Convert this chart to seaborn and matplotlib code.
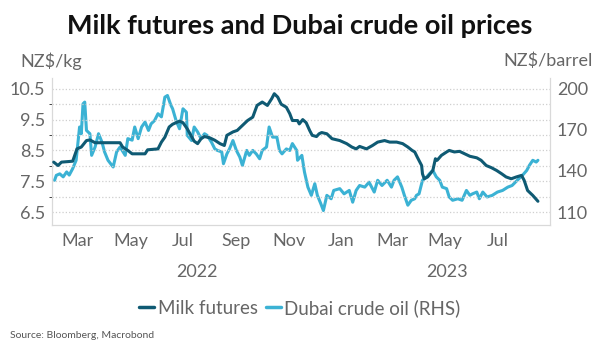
import pandas as pd
import numpy as np
import seaborn as sns
import matplotlib.pyplot as plt
import matplotlib.dates as mdates
from matplotlib.lines import Line2D

# Milk futures, NZ$/kg (left axis)
milk_dates = ["2022-02-01", "2022-02-06", "2022-02-10", "2022-02-23", "2022-02-28", "2022-03-05",
              "2022-03-11", "2022-03-15", "2022-03-21", "2022-04-19", "2022-04-22", "2022-04-28",
              "2022-05-03", "2022-05-18", "2022-05-21", "2022-06-02", "2022-06-06", "2022-06-10",
              "2022-06-15", "2022-06-19", "2022-06-27", "2022-07-01", "2022-07-06", "2022-07-11",
              "2022-07-14", "2022-07-18", "2022-07-22", "2022-07-26", "2022-08-01", "2022-08-07",
              "2022-08-13", "2022-08-18", "2022-08-21", "2022-08-28", "2022-09-02", "2022-09-08",
              "2022-09-14", "2022-09-20", "2022-09-25", "2022-10-01", "2022-10-07", "2022-10-12",
              "2022-10-15", "2022-10-19", "2022-10-23", "2022-10-29", "2022-11-02", "2022-11-05",
              "2022-11-11", "2022-11-13", "2022-11-17", "2022-11-21", "2022-11-25", "2022-11-28",
              "2022-12-03", "2022-12-06", "2022-12-09", "2022-12-15", "2022-12-21", "2022-12-30",
              "2023-01-07", "2023-01-13", "2023-01-18", "2023-01-22", "2023-01-30", "2023-02-06",
              "2023-02-12", "2023-02-20", "2023-02-26", "2023-03-06", "2023-03-13", "2023-03-19",
              "2023-03-24", "2023-03-27", "2023-03-30", "2023-04-04", "2023-04-05", "2023-04-07",
              "2023-04-11", "2023-04-17", "2023-04-20", "2023-04-22", "2023-04-27", "2023-05-03",
              "2023-05-06", "2023-05-12", "2023-05-18", "2023-05-24", "2023-05-30", "2023-06-07",
              "2023-06-12", "2023-06-18", "2023-06-24", "2023-06-30", "2023-07-06", "2023-07-11",
              "2023-07-17", "2023-07-23", "2023-07-29", "2023-08-01", "2023-08-05", "2023-08-11",
              "2023-08-17"]
milk_vals = [8.12, 8.01, 8.12, 8.15, 8.55, 8.61,
             8.82, 8.84, 8.75, 8.75, 8.61, 8.50,
             8.39, 8.39, 8.52, 8.55, 8.77, 8.93,
             9.26, 9.35, 9.45, 9.40, 9.20, 8.95,
             8.80, 8.72, 8.88, 8.95, 8.91, 8.83,
             8.72, 8.66, 8.99, 9.10, 9.15, 9.31,
             9.47, 9.58, 9.96, 10.07, 9.96, 10.18,
             10.34, 10.23, 10.00, 9.90, 9.69, 9.47,
             9.47, 9.36, 9.50, 9.40, 9.15, 8.99,
             8.95, 9.04, 9.08, 9.04, 8.88, 8.82,
             8.72, 8.61, 8.55, 8.63, 8.55, 8.66,
             8.77, 8.82, 8.77, 8.77, 8.72, 8.61,
             8.50, 8.45, 8.28, 8.01, 7.74, 7.58,
             7.64, 7.85, 8.23, 8.18, 8.34, 8.45,
             8.50, 8.45, 8.47, 8.39, 8.31, 8.26,
             8.18, 8.01, 7.94, 7.85, 7.74, 7.64,
             7.58, 7.64, 7.69, 7.53, 7.20, 7.04,
             6.85]

# Dubai crude oil, NZ$/barrel (right axis)
oil_dates = ["2022-02-02", "2022-02-04", "2022-02-08", "2022-02-12", "2022-02-16", "2022-02-19",
             "2022-02-23", "2022-02-27", "2022-03-03", "2022-03-05", "2022-03-07", "2022-03-09",
             "2022-03-11", "2022-03-15", "2022-03-17", "2022-03-21", "2022-03-25", "2022-03-29",
             "2022-04-01", "2022-04-05", "2022-04-11", "2022-04-15", "2022-04-19", "2022-04-25",
             "2022-04-28", "2022-05-03", "2022-05-06", "2022-05-10", "2022-05-14", "2022-05-18",
             "2022-05-22", "2022-05-25", "2022-05-29", "2022-06-02", "2022-06-06", "2022-06-10",
             "2022-06-13", "2022-06-17", "2022-06-19", "2022-06-23", "2022-06-27", "2022-07-01",
             "2022-07-05", "2022-07-06", "2022-07-11", "2022-07-14", "2022-07-18", "2022-07-22",
             "2022-07-26", "2022-07-29", "2022-08-03", "2022-08-07", "2022-08-10", "2022-08-15",
             "2022-08-17", "2022-08-21", "2022-08-24", "2022-08-28", "2022-09-01", "2022-09-05",
             "2022-09-08", "2022-09-13", "2022-09-16", "2022-09-20", "2022-09-24", "2022-09-28",
             "2022-10-01", "2022-10-06", "2022-10-09", "2022-10-13", "2022-10-18", "2022-10-21",
             "2022-10-24", "2022-10-29", "2022-11-02", "2022-11-05", "2022-11-10", "2022-11-11",
             "2022-11-16", "2022-11-19", "2022-11-23", "2022-11-27", "2022-12-01", "2022-12-04",
             "2022-12-08", "2022-12-11", "2022-12-15", "2022-12-20", "2022-12-23", "2022-12-30",
             "2023-01-04", "2023-01-10", "2023-01-14", "2023-01-18", "2023-01-22", "2023-01-28",
             "2023-02-02", "2023-02-08", "2023-02-12", "2023-02-17", "2023-02-23", "2023-02-28",
             "2023-03-03", "2023-03-07", "2023-03-12", "2023-03-15", "2023-03-19", "2023-03-23",
             "2023-03-27", "2023-03-29", "2023-04-01", "2023-04-05", "2023-04-10", "2023-04-13",
             "2023-04-17", "2023-04-21", "2023-04-25", "2023-04-28", "2023-05-03", "2023-05-06",
             "2023-05-10", "2023-05-16", "2023-05-21", "2023-05-26", "2023-05-30", "2023-06-02",
             "2023-06-07", "2023-06-10", "2023-06-14", "2023-06-19", "2023-06-25", "2023-07-01",
             "2023-07-07", "2023-07-13", "2023-07-18", "2023-07-24", "2023-07-30", "2023-08-04",
             "2023-08-07", "2023-08-11", "2023-08-15", "2023-08-17"]
oil_vals = [133.2, 136.8, 137.9, 135.7, 139.3, 137.0,
            141.7, 147.8, 172.1, 167.2, 189.0, 190.3,
            169.6, 167.2, 151.4, 157.5, 167.2, 161.1,
            153.9, 147.8, 142.9, 153.9, 157.5, 151.4,
            163.6, 162.5, 172.1, 163.6, 172.1, 175.7,
            169.6, 174.4, 176.8, 181.8, 179.5, 193.9,
            195.1, 188.0, 185.4, 176.8, 170.8, 185.4,
            182.9, 166.0, 162.2, 172.1, 168.5, 163.6,
            167.2, 166.0, 161.1, 156.1, 155.0, 153.9,
            145.3, 152.5, 156.1, 162.2, 155.0, 150.1,
            144.0, 155.0, 151.4, 155.0, 152.5, 148.9,
            155.0, 157.5, 172.1, 164.7, 164.7, 155.0,
            152.5, 156.1, 155.0, 160.0, 155.0, 147.8,
            151.4, 139.3, 128.2, 122.2, 130.7, 122.2,
            116.1, 111.1, 122.2, 119.7, 125.8, 127.1,
            123.3, 125.8, 117.2, 125.8, 129.4, 128.2,
            131.8, 124.6, 133.2, 129.4, 133.2, 128.2,
            133.2, 135.7, 128.2, 122.2, 115.0, 118.6,
            119.7, 122.2, 123.3, 133.2, 135.7, 137.9,
            140.4, 135.7, 133.2, 128.2, 127.1, 121.0,
            118.6, 119.7, 118.6, 125.8, 122.2, 123.3,
            124.6, 119.7, 124.6, 121.0, 122.2, 124.6,
            125.8, 128.2, 129.4, 133.2, 136.8, 140.4,
            144.0, 147.8, 146.5, 147.8]

month_ticks = ["2022-03-01", "2022-05-01", "2022-07-01", "2022-09-01", "2022-11-01",
               "2023-01-01", "2023-03-01", "2023-05-01", "2023-07-01"]
month_labels = ["Mar", "May", "Jul", "Sep", "Nov", "Jan", "Mar", "May", "Jul"]
years = ["2022", "2023"]
year_pos = ["2022-07-17", "2023-05-03"]

milk = pd.DataFrame({"date": pd.to_datetime(milk_dates), "value": milk_vals})
oil = pd.DataFrame({"date": pd.to_datetime(oil_dates), "value": oil_vals})

DARK = "#0f5a73"
LIGHT = "#3bb2d4"
GREY = "#666666"

sns.set_style("white")
plt.rcParams["font.family"] = ["Lato", "DejaVu Sans"]

fig = plt.figure(figsize=(6, 3.53), dpi=100)
ax = fig.add_axes([52 / 600, 1 - 225 / 353, 498 / 600, 147 / 353])
ax2 = ax.twinx()

sns.lineplot(data=milk, x="date", y="value", ax=ax, color=DARK, linewidth=2.2, zorder=3)
sns.lineplot(data=oil, x="date", y="value", ax=ax2, color=LIGHT, linewidth=2.2, zorder=2)
ax.set_zorder(ax2.get_zorder() + 1)
ax.patch.set_visible(False)

lo, hi = 6.08, 10.85
ax.set_ylim(lo, hi)
ax2.set_ylim(110 + (lo - 6.5) * 22.5, 110 + (hi - 6.5) * 22.5)
ax.set_xlim(pd.Timestamp("2022-01-30"), pd.Timestamp("2023-08-31"))

ax.set_yticks([6.5, 7.5, 8.5, 9.5, 10.5])
ax.set_yticks([7.0, 8.0, 9.0, 10.0], minor=True)
ax2.set_yticks([110, 140, 170, 200])
ax.grid(True, which="both", axis="y", linestyle=":", color="#cfcfcf", linewidth=0.9)
ax.grid(False, axis="x")

ax.set_xticks(pd.to_datetime(month_ticks))
ax.set_xticklabels(month_labels)

for a in (ax, ax2):
    a.set_xlabel("")
    a.set_ylabel("")
    a.tick_params(length=0, labelsize=13, colors=GREY, pad=5)
    for s in a.spines.values():
        s.set_color("#d9d9d9")
        s.set_linewidth(0.8)
    a.spines["top"].set_visible(False)
ax.tick_params(axis="x", pad=6)

for yr, pos in zip(years, year_pos):
    ax.text(pd.Timestamp(pos), -0.32, yr, transform=ax.get_xaxis_transform(),
            ha="center", va="center", fontsize=13, color=GREY)

fig.text(0.5, 1 - 26 / 353, "Milk futures and Dubai crude oil prices", ha="center", va="center",
         fontsize=19.5, fontweight="bold", color="#111111")
fig.text(20 / 600, 1 - 61 / 353, "NZ$/kg", ha="left", va="center", fontsize=13, color=GREY)
fig.text(593 / 600, 1 - 61 / 353, "NZ$/barrel", ha="right", va="center", fontsize=13, color=GREY)
fig.text(10 / 600, 1 - 336 / 353, "Source: Bloomberg, Macrobond", ha="left", va="center",
         fontsize=7.5, color="#555555")

handles = [Line2D([], [], color=DARK, linewidth=2.5), Line2D([], [], color=LIGHT, linewidth=2.5)]
fig.legend(handles, ["Milk futures", "Dubai crude oil (RHS)"], loc="center",
           bbox_to_anchor=(0.5, 1 - 308 / 353), ncol=2, frameon=False, fontsize=13.5,
           handlelength=0.8, handletextpad=0.2, columnspacing=0.4, labelcolor=GREY)

fig.savefig("out.png", dpi=100)
